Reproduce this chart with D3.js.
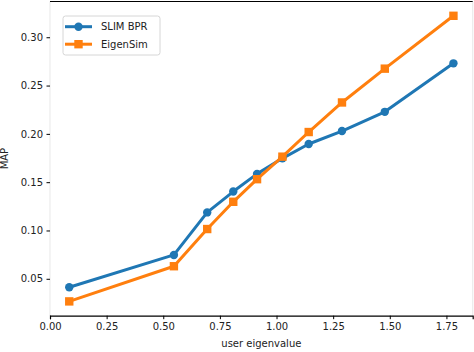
<!DOCTYPE html>
<meta charset="utf-8">
<style>
body { margin: 0; background: #fff; }
text { font-family: "DejaVu Sans", sans-serif; fill: #222; }
</style>
<svg width="474" height="352"></svg>
<script src="https://d3js.org/d3.v7.min.js"></script>
<script>
// user eigenvalue on x, MAP on y, two methods
var eigen = [0.085, 0.547, 0.694, 0.809, 0.914, 1.026, 1.142, 1.289, 1.478, 1.781];
var slimBpr = [0.0413, 0.0747, 0.1187, 0.1403, 0.1586, 0.1747, 0.1895, 0.2029, 0.2228, 0.2730];
var eigenSim = [0.0266, 0.0630, 0.1015, 0.1297, 0.1531, 0.1764, 0.2019, 0.2325, 0.2675, 0.3222];
var xTicks = [0, 0.25, 0.5, 0.75, 1.0, 1.25, 1.5, 1.75];
var yTicks = [0.05, 0.10, 0.15, 0.20, 0.25, 0.30];

var svg = d3.select("svg");
// note: "top" is taken by window.top, so use other names
var pL = 50, pR = 472.7, pT = 1.5, pB = 315.7;

var x = d3.scaleLinear().domain([0, 1.866]).range([pL, pR]);
var y = d3.scaleLinear().domain([0.0118, 0.337]).range([pB, pT]);

// spines (left/right are faint in the original)
svg.append("line").attr("x1", pL).attr("x2", pL).attr("y1", pT).attr("y2", pB)
  .attr("stroke", "#ececec").attr("stroke-width", 1.2);
svg.append("line").attr("x1", pR).attr("x2", pR).attr("y1", pT).attr("y2", pB)
  .attr("stroke", "#ececec").attr("stroke-width", 1.2);
svg.append("line").attr("x1", pL).attr("x2", pR).attr("y1", pT).attr("y2", pT)
  .attr("stroke", "#000").attr("stroke-width", 1.2);

// x axis
var xAxis = svg.append("g").attr("transform", "translate(0," + pB + ")")
  .call(d3.axisBottom(x).tickValues(xTicks).tickFormat(d3.format(".2f")).tickSize(3.5).tickPadding(3.5));
xAxis.select(".domain").attr("stroke", "#000").attr("stroke-width", 1.2);
xAxis.selectAll(".tick line").attr("stroke", "#000").attr("stroke-width", 1);
xAxis.selectAll("text").attr("font-size", 10).attr("font-family", "DejaVu Sans").attr("fill", "#222");

// y axis
var yAxis = svg.append("g").attr("transform", "translate(" + pL + ",0)")
  .call(d3.axisLeft(y).tickValues(yTicks).tickFormat(d3.format(".2f")).tickSize(3.5).tickPadding(3.5));
yAxis.select(".domain").remove();
yAxis.selectAll(".tick line").attr("stroke", "#000").attr("stroke-width", 1);
yAxis.selectAll("text").attr("font-size", 10).attr("font-family", "DejaVu Sans").attr("fill", "#222");

// axis labels
svg.append("text").attr("x", (pL + pR) / 2).attr("y", 347)
  .attr("text-anchor", "middle").attr("font-size", 10).text("user eigenvalue");
svg.append("text").attr("transform", "translate(8," + ((pT + pB) / 2) + ") rotate(-90)")
  .attr("text-anchor", "middle").attr("font-size", 10).text("MAP");

var line = d3.line().x(function(d) { return x(d[0]); }).y(function(d) { return y(d[1]); });

var series = [
  { name: "SLIM BPR", vals: slimBpr, color: "#1f77b4", marker: "circle" },
  { name: "EigenSim", vals: eigenSim, color: "#ff7f0e", marker: "square" }
];

series.forEach(function(s) {
  var pts = eigen.map(function(e, i) { return [e, s.vals[i]]; });
  svg.append("path").datum(pts).attr("d", line)
    .attr("fill", "none").attr("stroke", s.color).attr("stroke-width", 3)
    .attr("stroke-linejoin", "round");
  if (s.marker == "circle") {
    svg.append("g").selectAll("circle").data(pts).enter().append("circle")
      .attr("cx", function(d) { return x(d[0]); })
      .attr("cy", function(d) { return y(d[1]); })
      .attr("r", 4.2).attr("fill", s.color);
  } else {
    svg.append("g").selectAll("rect").data(pts).enter().append("rect")
      .attr("x", function(d) { return x(d[0]) - 4.2; })
      .attr("y", function(d) { return y(d[1]) - 4.2; })
      .attr("width", 8.4).attr("height", 8.4).attr("fill", s.color);
  }
});

// legend
var lg = svg.append("g");
lg.append("rect").attr("x", 63).attr("y", 16).attr("width", 97).attr("height", 39)
  .attr("rx", 2.5).attr("fill", "#fff").attr("fill-opacity", 0.8)
  .attr("stroke", "#d6d6d6").attr("stroke-width", 1);
series.forEach(function(s, i) {
  var ly = 26.7 + i * 17.5;
  lg.append("line").attr("x1", 65).attr("x2", 92).attr("y1", ly).attr("y2", ly)
    .attr("stroke", s.color).attr("stroke-width", 3);
  if (s.marker == "circle") {
    lg.append("circle").attr("cx", 78.5).attr("cy", ly).attr("r", 4.2).attr("fill", s.color);
  } else {
    lg.append("rect").attr("x", 74.3).attr("y", ly - 4.2).attr("width", 8.4).attr("height", 8.4).attr("fill", s.color);
  }
  lg.append("text").attr("x", 101).attr("y", ly + 3.6).attr("font-size", 10).text(s.name);
});
</script>
